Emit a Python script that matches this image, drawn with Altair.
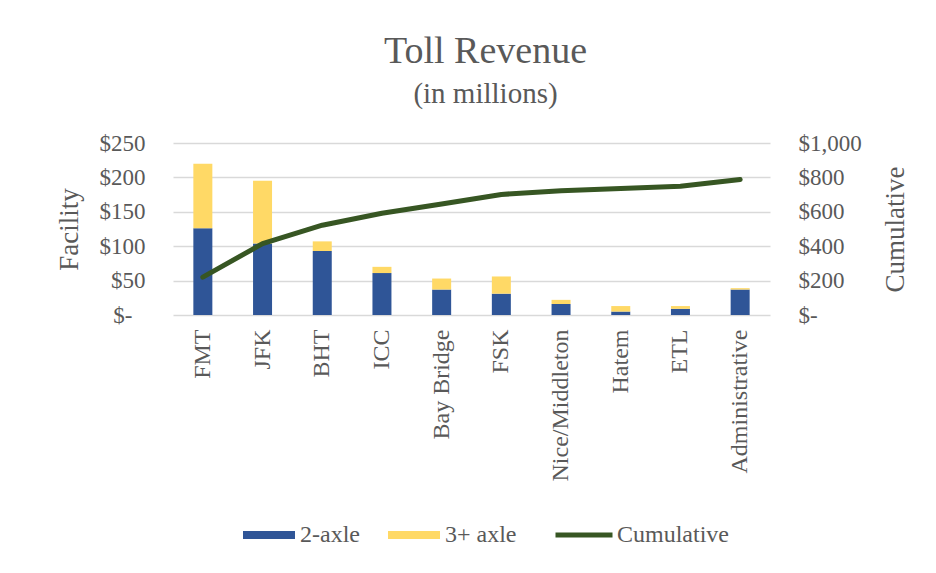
import altair as alt
import pandas as pd

facilities = ["FMT", "JFK", "BHT", "ICC", "Bay Bridge", "FSK",
              "Nice/Middleton", "Hatem", "ETL", "Administrative"]
axle2 = [126, 104, 93, 61, 37, 31, 16, 5, 9, 37]
axle3 = [94, 91, 14, 9, 16, 25, 6, 8, 4, 2]
cumulative = [220, 415, 522, 592, 645, 701, 723, 736, 749, 788]
series_names = ["2-axle", "3+ axle"]
bar_colors = ["#2F5597", "#FFD966"]
line_color = "#375623"

rows = []
for f, a, b in zip(facilities, axle2, axle3):
    rows.append({"facility": f, "series": series_names[0], "value": a, "order": 0})
    rows.append({"facility": f, "series": series_names[1], "value": b, "order": 1})
bars_df = pd.DataFrame(rows)
line_df = pd.DataFrame({"facility": facilities, "cumulative": cumulative,
                        "series": ["Cumulative"] * len(facilities)})

FONT = "Liberation Serif"
GRAY = "#595959"

x_enc = alt.X("facility:N", sort=facilities, title=None,
              axis=alt.Axis(labelAngle=270, labelAlign="right", labelBaseline="middle",
                            labelFontSize=24, labelPadding=14, ticks=False, domain=False))

bars = alt.Chart(bars_df).mark_bar(size=19).encode(
    x=x_enc,
    y=alt.Y("value:Q", stack="zero", scale=alt.Scale(domain=[0, 250], nice=False),
            axis=alt.Axis(values=[0, 50, 100, 150, 200, 250], title="Facility",
                          labelExpr="datum.value == 0 ? '$-' : '$' + format(datum.value, ',')",
                          labelFontSize=23,
                          labelPadding={"condition": {"test": "datum.value == 0", "value": 41},
                                        "value": 28},
                          titleFontSize=27, titlePadding=16,
                          grid=True, gridColor="#D9D9D9", gridWidth=1.5)),
    fill=alt.Fill("series:N", scale=alt.Scale(domain=series_names, range=bar_colors),
                  legend=alt.Legend(title=None, orient="none", direction="horizontal",
                                    legendX=70, legendY=366,
                                    symbolType="M-1,-0.154H1V0.154H-1Z", symbolSize=2704,
                                    symbolStrokeWidth=0, symbolOpacity=1,
                                    labelOffset=5, columnPadding=28)),
    order=alt.Order("order:Q"),
)

line = alt.Chart(line_df).mark_line(strokeWidth=5, strokeCap="round", strokeJoin="round").encode(
    x=x_enc,
    y=alt.Y("cumulative:Q", scale=alt.Scale(domain=[0, 1000], nice=False),
            axis=alt.Axis(orient="right", values=[0, 200, 400, 600, 800, 1000], title="Cumulative",
                          labelExpr="datum.value == 0 ? '$-' : '$' + format(datum.value, ',')",
                          labelFontSize=23, labelPadding=28, titleFontSize=27, titlePadding=48,
                          titleAngle=270, grid=False)),
    stroke=alt.Stroke("series:N", scale=alt.Scale(domain=["Cumulative"], range=[line_color]),
                      legend=alt.Legend(title=None, orient="none", legendX=380, legendY=361,
                                        symbolType="stroke", symbolSize=3249,
                                        symbolStrokeWidth=5, labelOffset=2)),
)

chart = alt.layer(bars, line).resolve_scale(y="independent").properties(
    width=597, height=172,
    autosize=alt.AutoSizeParams(type="none"),
    padding={"left": 165, "top": 135, "right": 150, "bottom": 250},
    title=alt.Title("Toll Revenue", subtitle="(in millions)", font=FONT, fontSize=38,
                    fontWeight="normal", color=GRAY, subtitleFont=FONT, subtitleFontSize=29,
                    subtitleColor=GRAY, anchor="middle", dx=14, offset=23, subtitlePadding=9),
    background="white",
).configure_view(stroke=None).configure_axis(
    labelFont=FONT, titleFont=FONT, labelColor=GRAY, titleColor=GRAY,
    titleFontWeight="normal", domain=False, ticks=False,
).configure_legend(labelFont=FONT, labelFontSize=24, labelColor=GRAY)

chart.save("out.html", embed_options={"renderer": "svg", "actions": False})
